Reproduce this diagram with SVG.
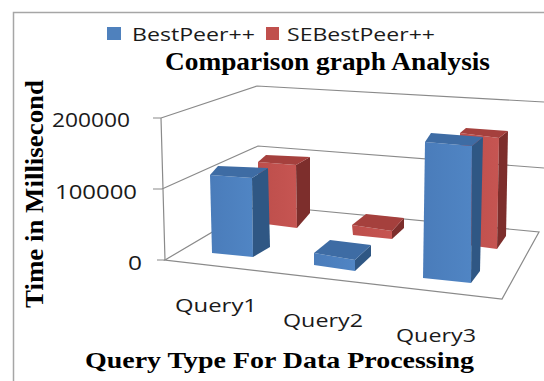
<svg xmlns="http://www.w3.org/2000/svg" width="544" height="381" viewBox="0 0 544 381">
<style>
.grid{stroke:#8a8a8a;stroke-width:1.2;fill:none}
.frame{stroke:#a6a6a6;stroke-width:1.5;fill:none}
.ttl{font-family:"Liberation Serif","Times New Roman",serif;font-weight:bold;fill:#000}
.lbl{font-family:"Open Sans","Liberation Sans",Arial,sans-serif;fill:#1a1a1a}
.bf{fill:url(#gb)}.bt{fill:#3e6ca4}.bs{fill:#2f5784}
.rf{fill:url(#gr)}.rt{fill:#a5403d}.rs{fill:#7d2e2c}
</style>
<defs>
<linearGradient id="gb" x1="0" y1="0" x2="1" y2="0"><stop offset="0" stop-color="#4a7cba"/><stop offset="1" stop-color="#5085c4"/></linearGradient>
<linearGradient id="gr" x1="0" y1="0" x2="1" y2="0"><stop offset="0" stop-color="#bd4e4b"/><stop offset="1" stop-color="#c65552"/></linearGradient>
</defs>
<rect x="0" y="0" width="544" height="381" fill="#fff"/>
<path class="frame" d="M13.5,381 V12.5 H544"/>
<g id="legend">
<rect x="107" y="27" width="14" height="13" fill="#4f81bd"/>
<text class="lbl" x="132" y="41" font-size="19" textLength="123" lengthAdjust="spacingAndGlyphs">BestPeer++</text>
<rect x="266" y="27" width="13" height="13" fill="#c0504d"/>
<text class="lbl" x="287" y="41" font-size="19" textLength="148" lengthAdjust="spacingAndGlyphs">SEBestPeer++</text>
</g>
<g id="title"><text class="ttl" x="165" y="70" font-size="26" textLength="325" lengthAdjust="spacingAndGlyphs">Comparison graph Analysis</text></g>
<g id="y-title"><text class="ttl" transform="translate(43,194) rotate(-90)" text-anchor="middle" font-size="26" textLength="228" lengthAdjust="spacingAndGlyphs">Time in Millisecond</text></g>
<g id="x-title"><text class="ttl" x="85" y="368" font-size="24" textLength="389" lengthAdjust="spacingAndGlyphs">Query Type For Data Processing</text></g>
<g id="axes">
<path class="grid" d="M161,118 L165,260 M153,118 H161 M153,189 H162 M157,260 H165"/>
<path class="grid" d="M161,118 L257,86 L544,102 M162,189 L258,146 L544,168 M165,260 L258,205 L539,232 L502,299 Z"/>
<text class="lbl" x="52" y="127" font-size="20" textLength="78" lengthAdjust="spacingAndGlyphs">200000</text>
<text class="lbl" x="55" y="199" font-size="20" textLength="82" lengthAdjust="spacingAndGlyphs">100000</text>
<text class="lbl" x="128" y="270" font-size="20" textLength="14" lengthAdjust="spacingAndGlyphs">0</text>
<text class="lbl" x="175" y="312" font-size="19" textLength="82" lengthAdjust="spacingAndGlyphs">Query1</text>
<text class="lbl" x="283" y="327" font-size="19" textLength="80" lengthAdjust="spacingAndGlyphs">Query2</text>
<text class="lbl" x="396" y="342" font-size="19" textLength="80" lengthAdjust="spacingAndGlyphs">Query3</text>
</g>
<g id="se-q1">
<polygon class="rf" points="258,162 296,165 297,228 258,223"/>
<polygon class="rs" points="296,165 310,157 310,213 297,228"/>
<polygon class="rt" points="258,162 266,155 310,157 296,165"/>
</g>
<g id="bp-q1">
<polygon class="bf" points="210,175 252,178 253,257 212,253"/>
<polygon class="bs" points="252,178 268,168 270,247 253,257"/>
<polygon class="bt" points="210,175 218,166 268,168 252,178"/>
</g>
<g id="se-q2">
<polygon class="rf" points="352,225 392,231 392,239 353,235"/>
<polygon class="rs" points="392,231 404,218 404,228 392,239"/>
<polygon class="rt" points="352,225 366,214 404,218 392,231"/>
</g>
<g id="bp-q2">
<polygon class="bf" points="314,253 355,260 355,271 314,265"/>
<polygon class="bs" points="355,260 371,245 371,256 355,271"/>
<polygon class="bt" points="314,253 330,240 371,245 355,260"/>
</g>
<g id="se-q3">
<polygon class="rf" points="460,133 499,138 497,249 460,244"/>
<polygon class="rs" points="499,138 508,131 506,236 497,249"/>
<polygon class="rt" points="460,133 466,128 508,131 499,138"/>
</g>
<g id="bp-q3">
<polygon class="bf" points="425,142 472,146 471,283 423,278"/>
<polygon class="bs" points="472,146 483,137 480,271 471,283"/>
<polygon class="bt" points="425,142 431,133 483,137 472,146"/>
</g>
</svg>
